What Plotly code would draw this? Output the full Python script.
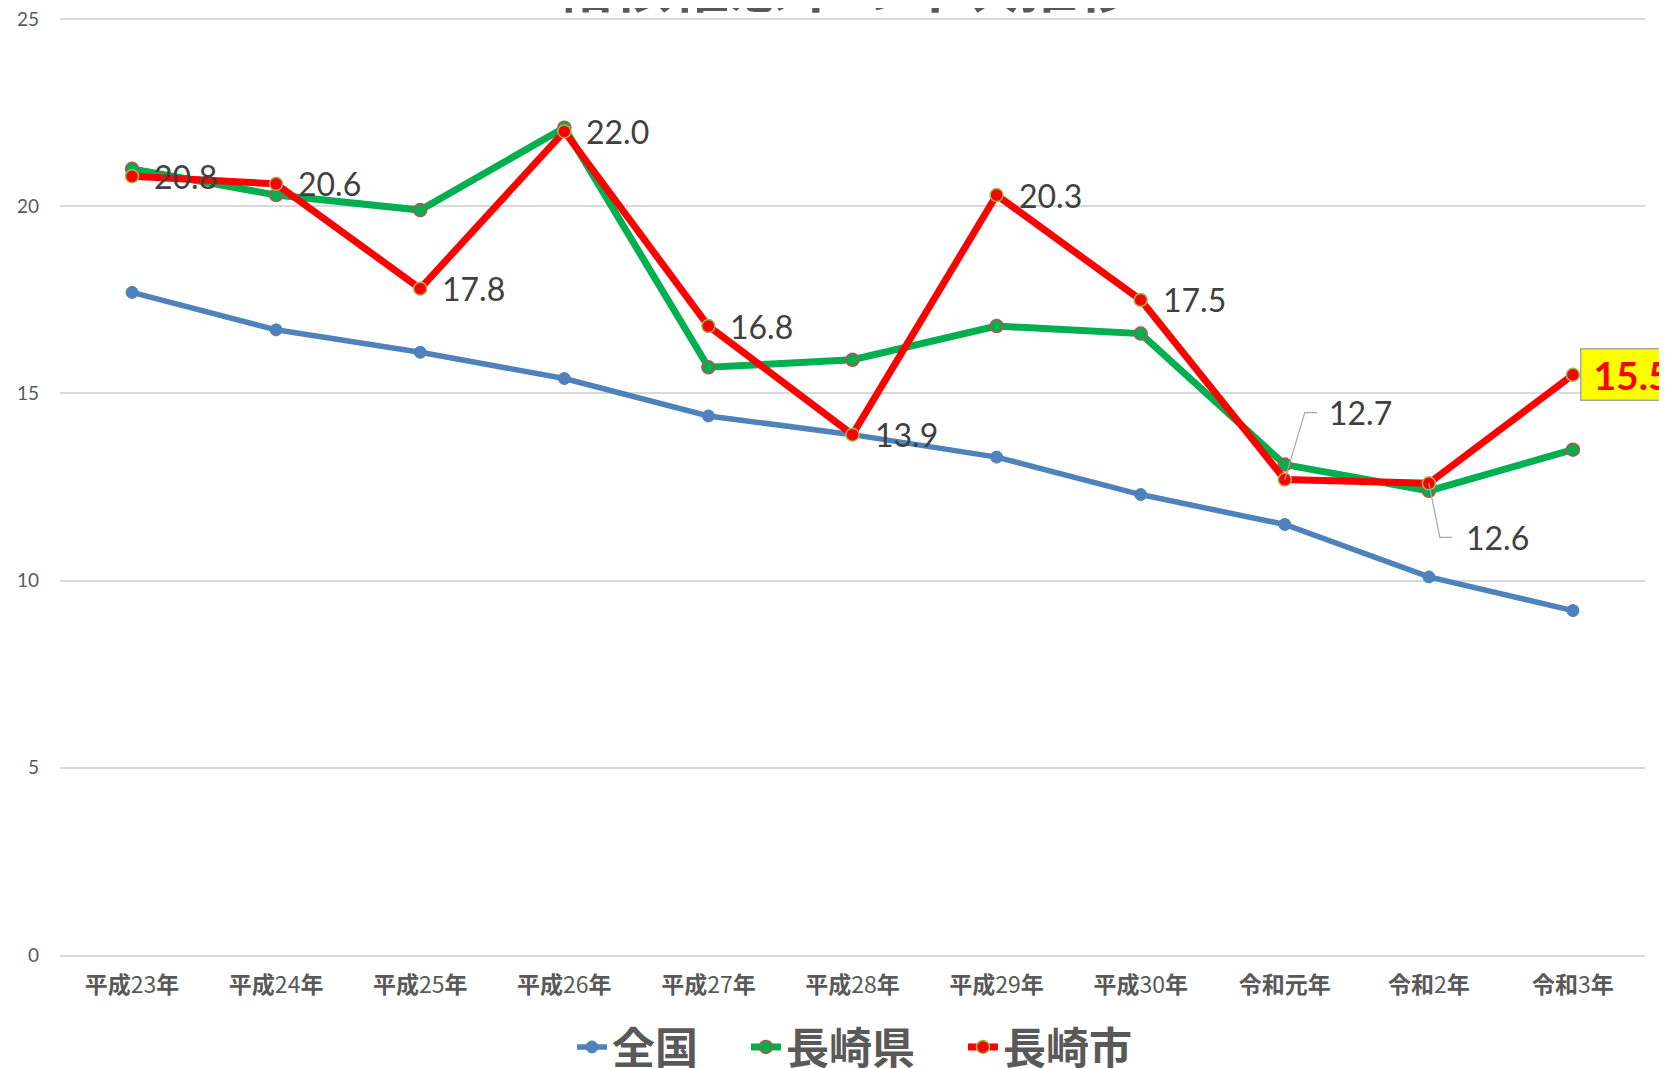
import plotly.graph_objects as go

categories = ["平成23年", "平成24年", "平成25年", "平成26年", "平成27年", "平成28年",
              "平成29年", "平成30年", "令和元年", "令和2年", "令和3年"]
tick_labels = ["<b>平成</b>23<b>年</b>", "<b>平成</b>24<b>年</b>", "<b>平成</b>25<b>年</b>",
               "<b>平成</b>26<b>年</b>", "<b>平成</b>27<b>年</b>", "<b>平成</b>28<b>年</b>",
               "<b>平成</b>29<b>年</b>", "<b>平成</b>30<b>年</b>", "<b>令和元年</b>",
               "<b>令和</b>2<b>年</b>", "<b>令和</b>3<b>年</b>"]
series_names = ["全国", "長崎県", "長崎市"]
zenkoku = [17.7, 16.7, 16.1, 15.4, 14.4, 13.9, 13.3, 12.3, 11.5, 10.1, 9.2]
nagasaki_ken = [21.0, 20.3, 19.9, 22.1, 15.7, 15.9, 16.8, 16.6, 13.1, 12.4, 13.5]
nagasaki_shi = [20.8, 20.6, 17.8, 22.0, 16.8, 13.9, 20.3, 17.5, 12.7, 12.6, 15.5]
title_text = "結核罹患率の年次推移"

GRAY = "#595959"
NUM_FONT = "Lato, 'DejaVu Sans', sans-serif"
CJK_FONT = "'Noto Sans CJK JP', sans-serif"
LEGEND_PAD = ["\u3000", "\u3000", ""]  # spacing between legend entries

fig = go.Figure()
fig.add_trace(go.Scatter(
    x=categories, y=zenkoku, name=series_names[0] + LEGEND_PAD[0], mode="lines+markers",
    line=dict(color="#4f81bd", width=5.5),
    marker=dict(size=12, color="#4f81bd", line=dict(color="#4f81bd", width=1)),
))
fig.add_trace(go.Scatter(
    x=categories, y=nagasaki_ken, name=series_names[1] + LEGEND_PAD[1], mode="lines+markers",
    line=dict(color="#00b050", width=7),
    marker=dict(size=13, color="#00b050", line=dict(color="#c0504d", width=1.5)),
))
fig.add_trace(go.Scatter(
    x=categories, y=nagasaki_shi, name=series_names[2] + LEGEND_PAD[2], mode="lines+markers",
    line=dict(color="#ff0000", width=7),
    marker=dict(size=13, color="#ff0000", line=dict(color="#9bbb59", width=1.5)),
))

# label styles (offsets in pixels) for the 長崎市 data labels
label_style = {8: ("leader_up", 42, 67), 9: ("leader_down", 35, -54), 10: ("box", 7, 0)}
annotations = []
shapes = []
for i, (c, v) in enumerate(zip(categories, nagasaki_shi)):
    kind, dx, dy = label_style.get(i, ("plain", 20, 0))
    if kind == "box":
        annotations.append(dict(
            x=c, y=v, xref="x", yref="y", text="&nbsp;<b>%.1f</b>&nbsp;&nbsp;" % v,
            showarrow=False, xanchor="left", yanchor="middle", xshift=dx, yshift=dy,
            font=dict(family=NUM_FONT, size=39, color="#ff0000"),
            bgcolor="#ffff00", bordercolor="#a6a6a6", borderwidth=1.5, borderpad=2,
        ))
    else:
        annotations.append(dict(
            x=c, y=v, xref="x", yref="y", text="%.1f" % v,
            showarrow=False, xanchor="left", yanchor="middle", xshift=dx, yshift=dy,
            font=dict(family=NUM_FONT, size=32, color="#404040"),
        ))
        if kind == "leader_up":
            path = "M0,0 L20,67 L32,67"
        elif kind == "leader_down":
            path = "M0,0 L11,-54 L23,-54"
        else:
            path = None
        if path:
            shapes.append(dict(
                type="path", xref="x", yref="y", xsizemode="pixel", ysizemode="pixel",
                xanchor=c, yanchor=v, path=path,
                line=dict(color="#a6a6a6", width=1.2),
            ))

# title, mostly above the visible page as in the reference
annotations.append(dict(
    x=0.495, y=0.9915, xref="paper", yref="paper", xanchor="center", yanchor="bottom",
    text="<b>" + title_text + "</b>", showarrow=False,
    font=dict(family=CJK_FONT, size=58, color=GRAY),
))

# the page adds an 8px body margin, so the figure is 8px smaller and shifted
fig.update_layout(
    width=1659, height=1060,
    margin=dict(l=52, r=22, t=10, b=113, autoexpand=False),
    paper_bgcolor="white", plot_bgcolor="white",
    xaxis=dict(
        type="category", range=[-0.5, 10.5], tickmode="array",
        tickvals=categories, ticktext=tick_labels,
        tickfont=dict(family=CJK_FONT, size=23, color=GRAY),
        showgrid=False, showline=True, linecolor="#d9d9d9", linewidth=1.5,
        ticks="", ticklabelstandoff=9, automargin=False,
    ),
    yaxis=dict(
        range=[0, 25.03], tickmode="array", tickvals=[0, 5, 10, 15, 20, 25],
        showgrid=True, gridcolor="#d9d9d9", gridwidth=1.5,
        zeroline=False, showline=False, ticks="", automargin=False,
        ticklabeloverflow="allow",
        tickfont=dict(family=NUM_FONT, size=19, color=GRAY), ticklabelstandoff=20,
    ),
    legend=dict(orientation="h", x=0.323, xanchor="left",
                y=1 - 1039 / 1060, yanchor="middle", yref="container",
                font=dict(family=CJK_FONT, size=43, color=GRAY, weight="bold"),
                tracegroupgap=0),
    annotations=annotations,
    shapes=shapes,
    showlegend=True,
)

fig.write_html("out.html")
